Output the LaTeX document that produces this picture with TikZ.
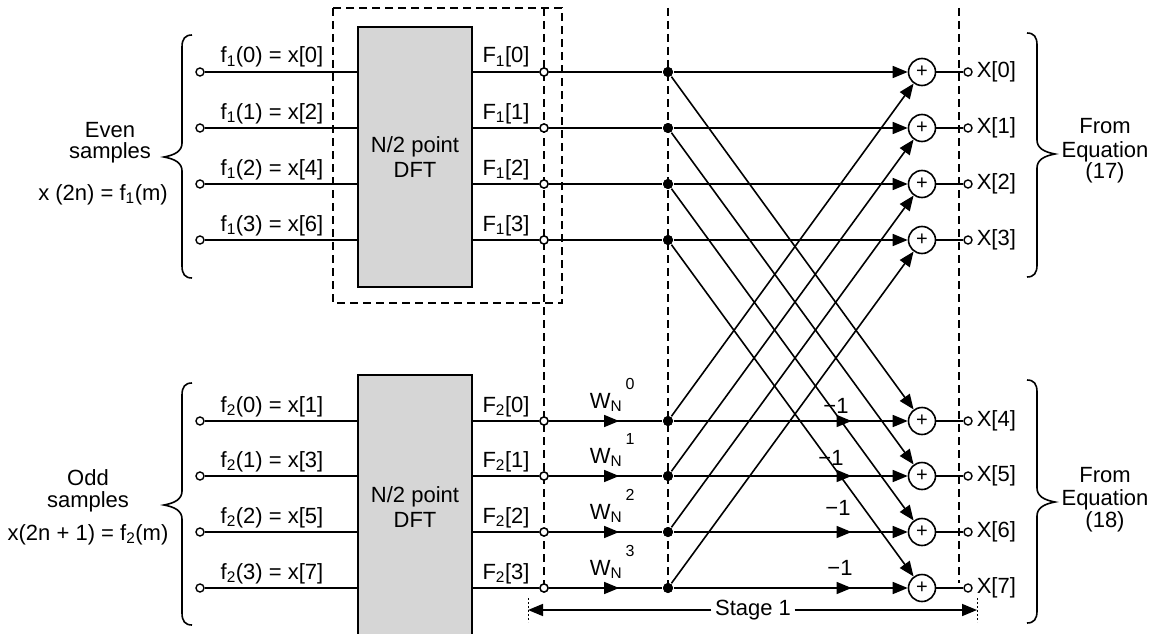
\documentclass[tikz,border=0pt]{standalone}
\usepackage{fontspec}
\setmainfont{Liberation Sans}
\usetikzlibrary{arrows.meta,decorations.markings}
\begin{document}
\begin{tikzpicture}[x=1pt,y=-1pt,
  line width=1.6pt,
  every node/.style={font=\fontsize{22}{25}\selectfont},
  tip/.style={-{Triangle[length=15pt,width=12pt]}},
  opn/.style={circle,draw,fill=white,line width=1.4pt,inner sep=0pt,minimum size=8pt},
  dot/.style={circle,fill=black,inner sep=0pt,minimum size=10pt},
  sumn/.style={circle,draw,line width=1.6pt,inner sep=0pt,minimum size=27pt,fill=white,font=\fontsize{20}{20}\selectfont},
  dft/.style={draw,line width=2pt,fill=gray!32,minimum width=114pt,align=center},
  dsh/.style={dash pattern=on 8pt off 5pt,line width=1.5pt},
  lbl/.style={anchor=base,inner sep=0pt},
  brc/.style={line width=1.6pt},
  midarrow/.style={postaction={decorate},decoration={markings,mark=at position #1 with {\arrow{Triangle[length=15pt,width=12pt]}}}},
]
\fill[white] (0,0) rectangle (1164,634);
\useasboundingbox (0,0) rectangle (1164,634);

% dashed frames and stage lines
\draw[dsh] (333,8) rectangle (562,303);
\draw[dsh] (544,8) -- (544,592);
\draw[dsh] (668,8) -- (668,592);
\draw[dsh] (959,8) -- (959,583);

% DFT boxes
\node[dft,minimum height=260pt] (box1) at (415,157) {N/2 point\\DFT};
\node[dft,minimum height=264pt] (box2) at (415,507) {N/2 point\\DFT};

% rows
\foreach \i/\y in {0/72,1/128,2/184,3/240,4/421,5/476,6/532,7/588}{
  \node[opn] (in\i) at (200,\y) {};
  \node[opn] (F\i) at (544,\y) {};
  \node[dot] (d\i) at (668,\y) {};
  \node[sumn] (s\i) at (922,\y) {+};
  \node[opn] (o\i) at (968,\y) {};
  \node[anchor=west,inner sep=0pt] (X\i) at (976,\y) {X[\i]};
  \draw[line width=1.2pt] (s\i) -- (o\i);
}
\foreach \i in {0,1,2,3}{
  \draw (in\i) -- (in\i -| box1.west);
  \draw (box1.east |- F\i) -- (F\i);
  \draw (F\i) -- (d\i);
  \draw[tip] (d\i) -- (s\i);
}
\foreach \i in {4,5,6,7}{
  \draw (in\i) -- (in\i -| box2.west);
  \draw (box2.east |- F\i) -- (F\i);
  \draw[midarrow=0.62] (F\i) -- (d\i);
  \draw[tip,midarrow=0.76] (d\i) -- (s\i);
}
% butterflies
\foreach \a/\b in {0/4,1/5,2/6,3/7}{
  \draw[tip] (d\a) -- (s\b);
  \draw[tip] (d\b) -- (s\a);
}
% redraw nodes on top
\foreach \i in {0,...,7}{
  \node[opn] at (F\i) {};
  \node[dot] at (d\i) {};
}

% input labels
\foreach \k/\y/\x in {0/72/0,1/128/2,2/184/4,3/240/6}{
  \node[lbl] (fa\k) at (272,\y-9) {f\textsubscript{1}(\k) = x[\x]};
  \node[lbl] (Fa\k) at (506,\y-9) {F\textsubscript{1}[\k]};
}
\foreach \k/\y/\x in {0/421/1,1/476/3,2/532/5,3/588/7}{
  \node[lbl] (fb\k) at (272,\y-9) {f\textsubscript{2}(\k) = x[\x]};
  \node[lbl] (Fb\k) at (506,\y-9) {F\textsubscript{2}[\k]};
  \node[anchor=base west,inner sep=0pt] (W\k) at (589,\y-13) {W\textsubscript{N}};
  \node[font=\fontsize{16}{16}\selectfont,inner sep=0pt] (Wk\k) at (630,\y-37) {\k};
}
% -1 labels
\node[lbl] (m4) at (836,413) {−1};
\node[lbl] (m5) at (831,465) {−1};
\node[lbl] (m6) at (838,515) {−1};
\node[lbl] (m7) at (840,575) {−1};

% side labels
\node[lbl] (ev1) at (110,137) {Even};
\node[lbl] (ev2) at (110,158) {samples};
\node[lbl] (ev3) at (103,200) {x (2n) = f\textsubscript{1}(m)};
\node[lbl] (od1) at (88,485) {Odd};
\node[lbl] (od2) at (88,507) {samples};
\node[lbl] (od3) at (88,540) {x(2n + 1) = f\textsubscript{2}(m)};
\node[lbl] (r1a) at (1105,133) {From};
\node[lbl] (r1b) at (1105,157) {Equation};
\node[lbl] (r1c) at (1105,178) {(17)};
\node[lbl] (r2a) at (1105,482) {From};
\node[lbl] (r2b) at (1105,505) {Equation};
\node[lbl] (r2c) at (1105,527) {(18)};

% braces
\draw[brc] (192,35) .. controls (185,35) and (182,39) .. (182,47) -- (182,143) .. controls (182,151) and (175,155) .. (164,157) .. controls (175,159) and (182,163) .. (182,171) -- (182,266) .. controls (182,274) and (185,278) .. (192,278);
\draw[brc] (192,383) .. controls (185,383) and (182,387) .. (182,395) -- (182,491) .. controls (182,499) and (175,503) .. (164,505) .. controls (175,507) and (182,511) .. (182,519) -- (182,613) .. controls (182,621) and (185,625) .. (192,625);
\draw[brc] (1027,33) .. controls (1034,33) and (1037,37) .. (1037,45) -- (1037,140) .. controls (1037,148) and (1044,152) .. (1055,154) .. controls (1044,156) and (1037,160) .. (1037,168) -- (1037,265) .. controls (1037,273) and (1034,277) .. (1027,277);
\draw[brc] (1027,380) .. controls (1034,380) and (1037,384) .. (1037,392) -- (1037,488) .. controls (1037,496) and (1044,500) .. (1055,502) .. controls (1044,504) and (1037,508) .. (1037,516) -- (1037,611) .. controls (1037,619) and (1034,623) .. (1027,623);

% stage 1
\coordinate (sl) at (528,610);
\coordinate (sr) at (977,610);
\draw[line width=0.8pt,dash pattern=on 2pt off 2pt] (528,598) -- (528,622);
\draw[line width=0.8pt,dash pattern=on 2pt off 2pt] (977,598) -- (977,622);
\node[fill=white,inner sep=3pt] (st) at (753,610) {Stage 1};
\draw[tip] (st) -- (sl);
\draw[tip] (st) -- (sr);
\end{tikzpicture}
\end{document}
